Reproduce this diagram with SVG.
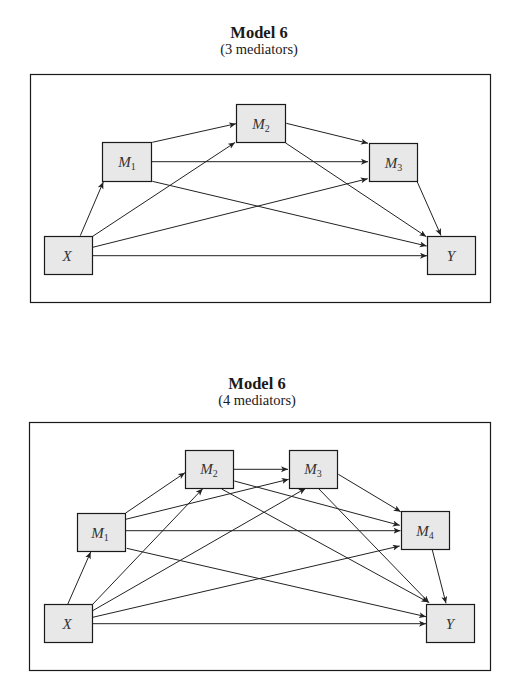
<svg xmlns="http://www.w3.org/2000/svg" width="527" height="690" viewBox="0 0 527 690">
<style>
.frame{fill:none;stroke:#1a1a1a;stroke-width:1.2}
.box{fill:#e8e8e8;stroke:#1a1a1a;stroke-width:1.2}
.lbl{font-family:"Liberation Serif",serif;font-style:italic;font-size:15px;fill:#333;text-anchor:middle}
.sub{font-size:10px;font-style:normal}
.title{font-family:"Liberation Serif",serif;font-weight:bold;font-size:16.5px;fill:#1a1a1a;text-anchor:middle}
.subt{font-family:"Liberation Serif",serif;font-size:14.5px;fill:#1a1a1a;text-anchor:middle}
.conn line{stroke:#222;stroke-width:1;marker-end:url(#ah)}
</style>
<defs>
<marker id="ah" markerUnits="userSpaceOnUse" markerWidth="8" markerHeight="7" refX="7" refY="3" orient="auto">
<path d="M0,0 L7,3 L0,6 L1.8,3 z" fill="#222"/>
</marker>
</defs>
<rect width="527" height="690" fill="#fff"/>

<text class="title" x="259" y="38">Model 6</text>
<text class="subt" x="259" y="54">(3 mediators)</text>
<rect class="frame" x="30.5" y="74.5" width="460" height="228"/>

<g class="conn" id="conn-top">
<line x1="80.3" y1="235.7" x2="103.3" y2="182"/>
<line x1="92.7" y1="236.3" x2="235" y2="142.5"/>
<line x1="92.7" y1="247.3" x2="367.7" y2="178.7"/>
<line x1="91.3" y1="255.7" x2="427" y2="255.7"/>
<line x1="152.3" y1="142.3" x2="236" y2="123.7"/>
<line x1="152" y1="161.7" x2="368" y2="161.7"/>
<line x1="152.3" y1="181.3" x2="426.7" y2="246"/>
<line x1="286.3" y1="123.3" x2="368" y2="143.3"/>
<line x1="285.7" y1="143" x2="426.3" y2="236.7"/>
<line x1="417.3" y1="182" x2="441" y2="235.5"/>
</g>

<g id="t-M1"><rect class="box" x="102.5" y="142.5" width="49" height="39"/><text class="lbl" x="127" y="167">M<tspan class="sub" dy="3">1</tspan></text></g>
<g id="t-M2"><rect class="box" x="236.5" y="104.5" width="49" height="38"/><text class="lbl" x="261" y="128.5">M<tspan class="sub" dy="3">2</tspan></text></g>
<g id="t-M3"><rect class="box" x="369.5" y="143.5" width="48" height="38"/><text class="lbl" x="393.5" y="167.5">M<tspan class="sub" dy="3">3</tspan></text></g>
<g id="t-X"><rect class="box" x="44.5" y="236.5" width="48" height="38"/><text class="lbl" x="67" y="260.5">X</text></g>
<g id="t-Y"><rect class="box" x="427.5" y="236.5" width="48" height="38"/><text class="lbl" x="451" y="260.5">Y</text></g>

<text class="title" x="257" y="389">Model 6</text>
<text class="subt" x="257" y="405">(4 mediators)</text>
<rect class="frame" x="29.5" y="422.5" width="461" height="248"/>

<g class="conn" id="conn-bottom">
<line x1="67.7" y1="604.3" x2="90.7" y2="552"/>
<line x1="92.7" y1="604.3" x2="202.7" y2="488.7"/>
<line x1="92.7" y1="610.7" x2="305.7" y2="488.3"/>
<line x1="92.7" y1="617.3" x2="399.7" y2="546"/>
<line x1="91.3" y1="623.7" x2="426" y2="623.7"/>
<line x1="125.7" y1="513" x2="185" y2="472.7"/>
<line x1="125.7" y1="519.3" x2="288.7" y2="479.3"/>
<line x1="124.7" y1="530.7" x2="400.5" y2="530.7"/>
<line x1="126.7" y1="548.3" x2="426" y2="616.7"/>
<line x1="233.7" y1="469.3" x2="288" y2="469.3"/>
<line x1="234.3" y1="481" x2="399.7" y2="525.3"/>
<line x1="221.7" y1="489" x2="428.3" y2="602.3"/>
<line x1="338.3" y1="474.3" x2="400.7" y2="511.7"/>
<line x1="317.7" y1="487.7" x2="429" y2="602.7"/>
<line x1="432.3" y1="550" x2="446" y2="603.3"/>
</g>

<g id="b-M1"><rect class="box" x="77.5" y="513.5" width="48" height="38"/><text class="lbl" x="100" y="537.5">M<tspan class="sub" dy="3">1</tspan></text></g>
<g id="b-M2"><rect class="box" x="185.5" y="450.5" width="48" height="38"/><text class="lbl" x="209" y="474">M<tspan class="sub" dy="3">2</tspan></text></g>
<g id="b-M3"><rect class="box" x="289.5" y="450.5" width="48" height="38"/><text class="lbl" x="313" y="474">M<tspan class="sub" dy="3">3</tspan></text></g>
<g id="b-M4"><rect class="box" x="401.5" y="511.5" width="48" height="38"/><text class="lbl" x="425" y="535.5">M<tspan class="sub" dy="3">4</tspan></text></g>
<g id="b-X"><rect class="box" x="44.5" y="604.5" width="48" height="38"/><text class="lbl" x="67" y="628.5">X</text></g>
<g id="b-Y"><rect class="box" x="426.5" y="604.5" width="48" height="38"/><text class="lbl" x="450" y="628.5">Y</text></g>
</svg>
